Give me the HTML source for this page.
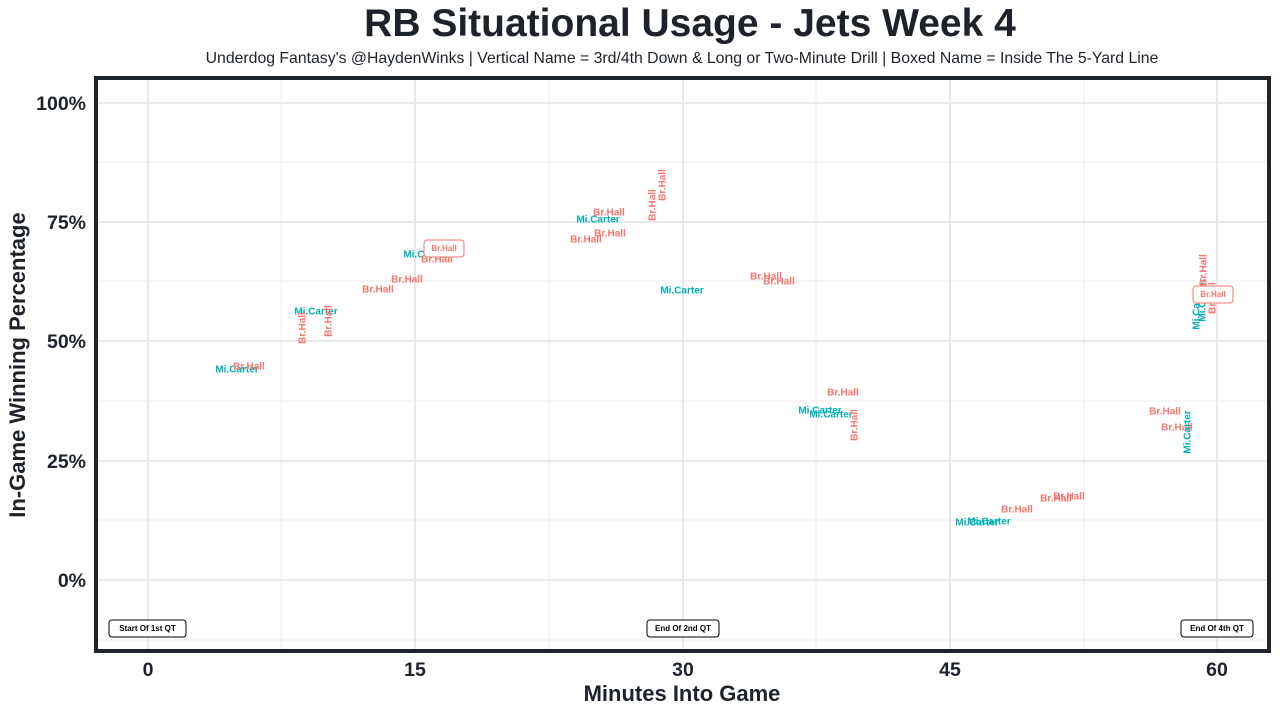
<!DOCTYPE html>
<html><head><meta charset="utf-8"><style>
body{margin:0;background:#fff;}
svg{display:block;font-family:"Liberation Sans",Arial,sans-serif;}
.r{fill:#F8766D;font-size:10px;font-weight:bold;}
.t{fill:#00B2B6;font-size:10px;font-weight:bold;}
.rb{fill:#F8766D;font-size:8px;font-weight:bold;}
.g{stroke:#e6e6e6;stroke-width:1.8;}
.gm{stroke:#eeeeee;stroke-width:1;}
</style></head><body>
<svg width="1280" height="715" viewBox="0 0 1280 715">
<text x="690" y="36" text-anchor="middle" font-size="39" font-weight="bold" fill="#1d222b">RB Situational Usage - Jets Week 4</text>
<text x="682" y="63" text-anchor="middle" font-size="15.8" fill="#1d222b">Underdog Fantasy's @HaydenWinks | Vertical Name = 3rd/4th Down &amp; Long or Two-Minute Drill | Boxed Name = Inside The 5-Yard Line</text>
<g>
<line class="gm" x1="97" x2="1268" y1="162" y2="162"/><line class="gm" x1="97" x2="1268" y1="281" y2="281"/><line class="gm" x1="97" x2="1268" y1="401" y2="401"/><line class="gm" x1="97" x2="1268" y1="520" y2="520"/><line class="gm" x1="97" x2="1268" y1="640" y2="640"/>
<line class="gm" y1="79" y2="650" x1="281" x2="281"/><line class="gm" y1="79" y2="650" x1="549" x2="549"/><line class="gm" y1="79" y2="650" x1="816" x2="816"/><line class="gm" y1="79" y2="650" x1="1084" x2="1084"/>
<line class="g" x1="97" x2="1268" y1="103" y2="103"/><line class="g" x1="97" x2="1268" y1="222" y2="222"/><line class="g" x1="97" x2="1268" y1="341" y2="341"/><line class="g" x1="97" x2="1268" y1="461" y2="461"/><line class="g" x1="97" x2="1268" y1="580" y2="580"/>
<line class="g" y1="79" y2="650" x1="148" x2="148"/><line class="g" y1="79" y2="650" x1="415" x2="415"/><line class="g" y1="79" y2="650" x1="683" x2="683"/><line class="g" y1="79" y2="650" x1="950" x2="950"/><line class="g" y1="79" y2="650" x1="1217" x2="1217"/>
</g>
<rect x="96" y="78" width="1173" height="573" fill="none" stroke="#1d222b" stroke-width="4"/>
<g font-size="19.5" font-weight="bold" fill="#1d222b" text-anchor="end">
<text x="86" y="110">100%</text><text x="86" y="229">75%</text><text x="86" y="348">50%</text><text x="86" y="468">25%</text><text x="86" y="587">0%</text>
</g>
<g font-size="19.5" font-weight="bold" fill="#1d222b" text-anchor="middle">
<text x="148" y="676">0</text><text x="415" y="676">15</text><text x="683" y="676">30</text><text x="950" y="676">45</text><text x="1217" y="676">60</text>
</g>
<text x="682" y="701" text-anchor="middle" font-size="22" font-weight="bold" fill="#1d222b">Minutes Into Game</text>
<text transform="translate(25,365) rotate(-90)" text-anchor="middle" font-size="22" font-weight="bold" fill="#1d222b">In-Game Winning Percentage</text>
<g text-anchor="middle" dominant-baseline="central">
<text class="t" x="237" y="370">Mi.Carter</text><text class="r" x="249" y="367">Br.Hall</text>
<text class="t" x="316" y="312">Mi.Carter</text>
<text class="r" transform="translate(303,328) rotate(-90)">Br.Hall</text>
<text class="r" transform="translate(329,321) rotate(-90)">Br.Hall</text>
<text class="r" x="378" y="290">Br.Hall</text><text class="r" x="407" y="280">Br.Hall</text>
<text class="t" x="425" y="255">Mi.Carter</text><text class="r" x="437" y="260">Br.Hall</text>
<rect x="424" y="240" width="40" height="17" rx="3" fill="#fff" stroke="#F8766D"/>
<text class="rb" x="444" y="248.5">Br.Hall</text>
<text class="t" x="598" y="220">Mi.Carter</text><text class="r" x="609" y="213">Br.Hall</text>
<text class="r" x="610" y="234">Br.Hall</text><text class="r" x="586" y="240">Br.Hall</text>
<text class="r" transform="translate(653,205) rotate(-90)">Br.Hall</text>
<text class="r" transform="translate(663,185) rotate(-90)">Br.Hall</text>
<text class="t" x="682" y="291">Mi.Carter</text>
<text class="r" x="766" y="277">Br.Hall</text><text class="r" x="779" y="282">Br.Hall</text>
<text class="r" x="843" y="393">Br.Hall</text>
<text class="t" x="820" y="411">Mi.Carter</text><text class="t" x="831" y="415">Mi.Carter</text>
<text class="r" transform="translate(855,425) rotate(-90)">Br.Hall</text>
<text class="t" x="977" y="523">Mi.Carter</text><text class="t" x="989" y="522">Mi.Carter</text>
<text class="r" x="1017" y="510">Br.Hall</text><text class="r" x="1056" y="499">Br.Hall</text><text class="r" x="1069" y="497">Br.Hall</text>
<text class="r" x="1165" y="412">Br.Hall</text><text class="r" x="1177" y="428">Br.Hall</text>
<text class="t" transform="translate(1188,432) rotate(-90)">Mi.Carter</text>
<text class="t" transform="translate(1197,308) rotate(-90)">Mi.Carter</text>
<text class="t" transform="translate(1203,300) rotate(-90)">Mi.Carter</text>
<text class="r" transform="translate(1204,270) rotate(-90)">Br.Hall</text>
<text class="r" transform="translate(1213,298) rotate(-90)">Br.Hall</text>
<rect x="1193" y="286" width="40" height="17" rx="3" fill="#fff" stroke="#F8766D"/>
<text class="rb" x="1213" y="294.5">Br.Hall</text>
</g>
<g font-size="8" font-weight="bold" fill="#000" text-anchor="middle" dominant-baseline="central">
<rect x="109" y="620" width="77" height="17" rx="3" fill="#fff" stroke="#000"/><text x="147.5" y="628.5">Start Of 1st QT</text>
<rect x="647" y="620" width="72" height="17" rx="3" fill="#fff" stroke="#000"/><text x="683" y="628.5">End Of 2nd QT</text>
<rect x="1181" y="620" width="72" height="17" rx="3" fill="#fff" stroke="#000"/><text x="1217" y="628.5">End Of 4th QT</text>
</g>
</svg>
</body></html>
